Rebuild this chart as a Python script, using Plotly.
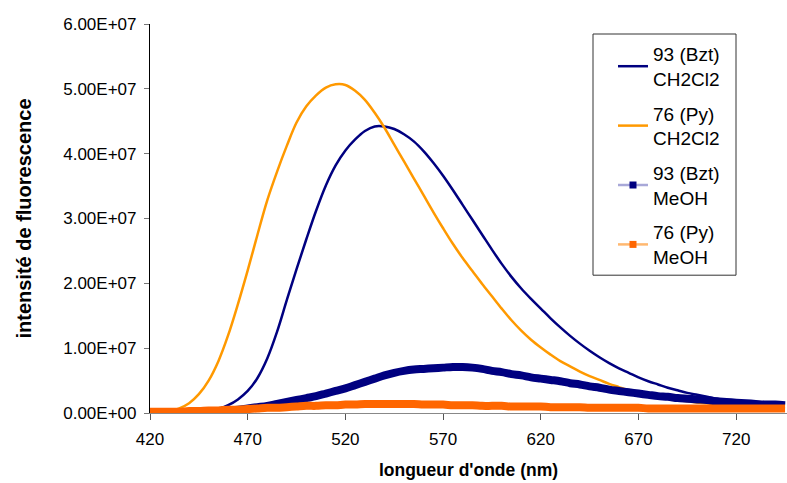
import plotly.graph_objects as go

# Wavelengths (nm)
wavelength = list(range(420, 750, 5))

# Fluorescence intensities (units of 1e7)
bzt_ch2cl2 = [0.00, 0.00, 0.00, 0.00, 0.01, 0.02, 0.03, 0.06, 0.12, 0.21,
              0.34, 0.54, 0.84, 1.25, 1.74, 2.22, 2.68, 3.12, 3.51, 3.82,
              4.05, 4.22, 4.35, 4.42, 4.42, 4.38, 4.30, 4.19, 4.04, 3.86,
              3.66, 3.44, 3.21, 2.98, 2.75, 2.52, 2.30, 2.10, 1.92, 1.76,
              1.61, 1.46, 1.32, 1.19, 1.07, 0.96, 0.86, 0.77, 0.69, 0.62,
              0.55, 0.49, 0.44, 0.39, 0.35, 0.31, 0.28, 0.25, 0.22, 0.20,
              0.19, 0.17, 0.16, 0.15, 0.14, 0.13]
py_ch2cl2 = [0.00, 0.00, 0.02, 0.07, 0.15, 0.29, 0.50, 0.80, 1.20, 1.68,
             2.20, 2.75, 3.28, 3.72, 4.12, 4.48, 4.73, 4.90, 5.02, 5.07,
             5.06, 4.97, 4.83, 4.63, 4.40, 4.14, 3.88, 3.62, 3.36, 3.10,
             2.85, 2.61, 2.39, 2.19, 1.99, 1.80, 1.61, 1.43, 1.27, 1.13,
             1.01, 0.90, 0.80, 0.72, 0.64, 0.57, 0.51, 0.45, 0.40, 0.35,
             0.31, 0.28, 0.25, 0.22, 0.20, 0.18, 0.16, 0.15, 0.13, 0.12,
             0.11, 0.10, 0.09, 0.08, 0.08, 0.07]
bzt_meoh = [0.00, 0.00, 0.00, 0.01, 0.01, 0.02, 0.02, 0.03, 0.04, 0.05,
            0.07, 0.09, 0.11, 0.14, 0.17, 0.20, 0.23, 0.26, 0.30, 0.34,
            0.38, 0.43, 0.48, 0.53, 0.58, 0.62, 0.65, 0.67, 0.68, 0.69,
            0.70, 0.71, 0.71, 0.70, 0.68, 0.65, 0.63, 0.60, 0.58, 0.55,
            0.53, 0.51, 0.49, 0.46, 0.44, 0.41, 0.39, 0.36, 0.34, 0.32,
            0.30, 0.28, 0.26, 0.25, 0.23, 0.22, 0.21, 0.20, 0.18, 0.17,
            0.16, 0.15, 0.14, 0.13, 0.13, 0.12]
py_meoh = [0.02, 0.02, 0.02, 0.02, 0.03, 0.03, 0.04, 0.04, 0.05, 0.05,
           0.06, 0.07, 0.08, 0.08, 0.09, 0.10, 0.11, 0.11, 0.12, 0.12,
           0.13, 0.13, 0.14, 0.14, 0.14, 0.14, 0.14, 0.14, 0.13, 0.13,
           0.13, 0.12, 0.12, 0.12, 0.11, 0.11, 0.11, 0.10, 0.10, 0.10,
           0.10, 0.09, 0.09, 0.09, 0.09, 0.08, 0.08, 0.08, 0.08, 0.08,
           0.08, 0.07, 0.07, 0.07, 0.07, 0.07, 0.07, 0.07, 0.07, 0.07,
           0.07, 0.07, 0.07, 0.07, 0.07, 0.07]

names = ["93 (Bzt)<br>CH2Cl2", "76 (Py)<br>CH2Cl2", "93 (Bzt)<br>MeOH", "76 (Py)<br>MeOH"]

x_ticks = [420, 470, 520, 570, 620, 670, 720]
y_tick_vals = [0, 1e7, 2e7, 3e7, 4e7, 5e7, 6e7]
y_tick_labels = ["0.00E+00", "1.00E+07", "2.00E+07", "3.00E+07",
                 "4.00E+07", "5.00E+07", "6.00E+07"]

NAVY = "#000080"
ORANGE = "#FF9900"
DARK_ORANGE = "#FF6600"

def scale(v):
    return [a * 1e7 for a in v]

SM = 1.0
fig = go.Figure()
fig.add_trace(go.Scatter(x=wavelength, y=scale(bzt_ch2cl2), mode="lines", name=names[0],
                         legendgroup="g1",
                         line=dict(color=NAVY, width=2.5, shape="spline", smoothing=SM)))
fig.add_trace(go.Scatter(x=wavelength, y=scale(py_ch2cl2), mode="lines", name=names[1],
                         legendgroup="g2",
                         line=dict(color=ORANGE, width=2.5, shape="spline", smoothing=SM)))
fig.add_trace(go.Scatter(x=wavelength, y=scale(bzt_meoh), mode="lines", name=names[2],
                         legendgroup="g3", showlegend=False,
                         line=dict(color=NAVY, width=8, shape="spline", smoothing=SM)))
fig.add_trace(go.Scatter(x=wavelength, y=scale(py_meoh), mode="lines", name=names[3],
                         legendgroup="g4", showlegend=False,
                         line=dict(color=DARK_ORANGE, width=8, shape="spline", smoothing=SM)))
# legend entries for the marker series
fig.add_trace(go.Scatter(x=[None], y=[None], mode="lines+markers", name=names[2],
                         legendgroup="g3", line=dict(color="#A8A8D8", width=2.5),
                         marker=dict(symbol="square", size=7, color=NAVY)))
fig.add_trace(go.Scatter(x=[None], y=[None], mode="lines+markers", name=names[3],
                         legendgroup="g4", line=dict(color="#FFB870", width=2.5),
                         marker=dict(symbol="square", size=7, color=DARK_ORANGE)))

# legend frame (pixel geometry of the reference: x 593-736, y 34-275)
L, T, W, H = 150, 24, 637, 388.7
def px(xp):
    return (xp - L) / W
def py(yp):
    return 1 - (yp - T) / H

fig.add_shape(type="rect", xref="paper", yref="paper",
              x0=px(593), x1=px(736), y0=py(275), y1=py(34),
              line=dict(color="#333333", width=1), fillcolor="white", layer="above")

fig.update_layout(
    width=787, height=483,
    margin=dict(l=150, r=0, t=24, b=70),
    paper_bgcolor="white", plot_bgcolor="white",
    font=dict(family="Liberation Sans, Arial, sans-serif", size=17, color="black"),
    showlegend=True,
    legend=dict(x=px(613), y=py(35), xanchor="left", yanchor="top",
                bgcolor="rgba(0,0,0,0)", borderwidth=0,
                font=dict(size=19), tracegroupgap=7, traceorder="grouped"),
)
fig.update_xaxes(range=[420, 746], tickvals=x_ticks, ticks="outside", ticklen=6,
                 tickcolor="#555555", showline=True, linecolor="#888888", linewidth=1,
                 showgrid=False, zeroline=False, automargin=False, ticklabelstandoff=5,
                 title=dict(text="<b>longueur d'onde (nm)</b>", font=dict(size=17.5), standoff=15))
fig.update_yaxes(range=[0, 6e7], tickvals=y_tick_vals, ticktext=y_tick_labels,
                 ticks="outside", ticklen=5, tickcolor="#777777",
                 showline=True, linecolor="black", linewidth=1.2,
                 showgrid=False, zeroline=False, ticklabelstandoff=4, automargin=False,
                 title=dict(text="<b>intensité de fluorescence</b>", font=dict(size=20), standoff=26))

fig.write_html("out.html",
               config={"displayModeBar": False},
               post_script="document.body.style.margin='0px';document.body.style.overflow='hidden';")
